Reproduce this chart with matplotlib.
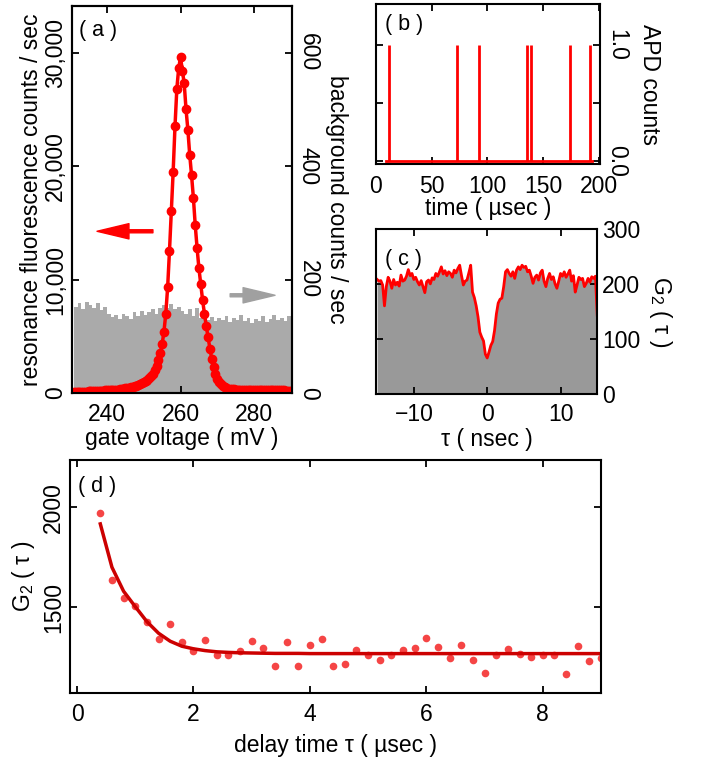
import numpy as np
import matplotlib.pyplot as plt

plt.rcParams['font.family'] = ['Liberation Sans', 'DejaVu Sans']
plt.rcParams['font.size'] = 16.5
plt.rcParams['mathtext.fontset'] = 'custom'
plt.rcParams['mathtext.rm'] = 'Liberation Sans'
plt.rcParams['mathtext.default'] = 'regular'
plt.rcParams['axes.linewidth'] = 1.5
plt.rcParams['xtick.direction'] = 'in'
plt.rcParams['ytick.direction'] = 'in'
plt.rcParams['xtick.top'] = True
plt.rcParams['ytick.right'] = True
plt.rcParams['xtick.major.size'] = 5
plt.rcParams['ytick.major.size'] = 5
plt.rcParams['xtick.major.width'] = 1.3
plt.rcParams['ytick.major.width'] = 1.3
plt.rcParams['xtick.major.pad'] = 7

# (a) resonance fluorescence vs gate voltage, 0.5 mV grid from 231 to 290 mV
rf_counts = [60, 70, 80, 90, 100, 110, 120, 130, 140, 150,
             160, 170, 180, 190, 200, 205, 210, 220, 230, 240,
             250, 260, 270, 285, 300, 320, 340, 370, 400, 430,
             460, 500, 540, 590, 640, 700, 780, 870, 970, 1060,
             1170, 1310, 1480, 1700, 2000, 2400, 2900, 3500, 4300, 5400,
             7000, 9300, 12500, 16000, 19500, 23500, 26800, 28600, 29600, 28400,
             27300, 25000, 23200, 21000, 19200, 17200, 14800, 12800, 11000, 9600,
             8200, 7000, 5900, 4900, 3900, 3000, 2300, 1700, 1250, 950,
             750, 600, 500, 430, 380, 350, 330, 315, 300, 295,
             290, 285, 280, 275, 270, 268, 265, 262, 260, 257,
             255, 252, 250, 248, 245, 242, 240, 237, 235, 232,
             230, 227, 225, 222, 220, 215, 210, 200, 190]
gate_mv = np.linspace(231, 290, len(rf_counts))

# background counts, 1 mV bins from 231 to 290 mV
bg_counts = [152, 158, 148, 160, 155, 150, 158, 146, 152, 140,
             134, 138, 130, 140, 136, 131, 142, 136, 145, 138,
             142, 148, 140, 150, 155, 150, 156, 148, 152, 144,
             140, 148, 136, 150, 132, 138, 128, 134, 126, 132,
             128, 136, 125, 132, 128, 138, 126, 133, 124, 131,
             127, 135, 125, 131, 137, 128, 133, 127, 136]
bg_edges = np.linspace(231, 290, len(bg_counts) + 1)

# (b) APD click times (usec)
apd_clicks = [12, 73, 93, 135.8, 139.4, 174.6, 192.5]
trace_span = [9, 194]

# (c) short-time G2, 0.25 ns grid from -15 to 15 ns
g2_short = [208, 205, 206, 198, 160, 195, 212, 205, 192, 208,
            198, 203, 196, 216, 205, 207, 214, 226, 215, 219,
            208, 212, 204, 198, 206, 195, 184, 204, 207, 200,
            211, 208, 219, 214, 222, 231, 218, 224, 215, 222,
            219, 212, 225, 220, 228, 234, 215, 198, 205, 207,
            220, 234, 185, 175, 160, 140, 112, 103, 96, 72,
            65, 76, 88, 95, 115, 145, 165, 172, 174, 195,
            222, 226, 219, 214, 222, 210, 225, 231, 226, 234,
            230, 232, 222, 225, 214, 201, 212, 216, 207, 220,
            225, 205, 195, 210, 219, 208, 213, 200, 192, 205,
            219, 214, 222, 212, 218, 225, 205, 215, 185, 198,
            212, 208, 210, 195, 201, 210, 203, 213, 210, 214,
            143]
tau_ns = np.linspace(-15, 15, len(g2_short))

# (d) long-time G2
delay_us = [0.4, 0.6, 0.8, 1.0, 1.2, 1.4, 1.6, 1.8, 2.0, 2.2, 2.4, 2.6, 2.8, 3.0, 3.2,
            3.4, 3.6, 3.8, 4.0, 4.2, 4.4, 4.6, 4.8, 5.0, 5.2, 5.4, 5.6, 5.8, 6.0, 6.2,
            6.4, 6.6, 6.8, 7.0, 7.2, 7.4, 7.6, 7.8, 8.0, 8.2, 8.4, 8.6, 8.8, 9.0]
g2_long = [1973, 1635, 1547, 1508, 1425, 1340, 1418, 1328, 1280, 1337, 1260, 1263, 1282, 1332, 1295,
           1208, 1325, 1207, 1312, 1340, 1207, 1215, 1285, 1260, 1237, 1262, 1285, 1298, 1348, 1300,
           1247, 1312, 1235, 1170, 1260, 1292, 1268, 1250, 1263, 1263, 1167, 1308, 1232, 1247]
g2_fit = [1917, 1700, 1580, 1503, 1428, 1370, 1330, 1305, 1292, 1283, 1277, 1274, 1272, 1271, 1270,
          1269, 1269, 1269, 1268, 1268, 1268, 1268, 1268, 1268, 1268, 1268, 1268, 1268, 1268, 1268,
          1268, 1268, 1268, 1268, 1268, 1268, 1268, 1268, 1268, 1268, 1268, 1268, 1268, 1268]

fig = plt.figure(figsize=(7.01, 7.60), dpi=100)

# ---- panel (a)
ax_a = fig.add_axes([0.1027, 0.4829, 0.3138, 0.5092])
ax_a2 = ax_a.twinx()
ax_a2.fill_between(bg_edges, bg_counts + bg_counts[-1:], step='post',
                   color='#aaaaaa', lw=0)
ax_a.plot(gate_mv, rf_counts, '-o', color='red', lw=2.5, ms=6)
ax_a.set_zorder(ax_a2.get_zorder() + 1)
ax_a.patch.set_visible(False)
ax_a.set_xlim(230.5, 290.3)
ax_a.set_ylim(0, 34100)
ax_a2.set_ylim(0, 682)
ax_a.set_xticks([240, 260, 280])
ax_a.set_yticks([0, 10000, 20000, 30000], ['0', '10,000', '20,000', '30,000'])
ax_a.tick_params(axis='y', labelrotation=90)
for t in ax_a.get_yticklabels():
    t.set_va('center')
ax_a2.set_yticks([0, 200, 400, 600])
ax_a2.tick_params(axis='y', labelrotation=270)
for t in ax_a2.get_yticklabels():
    t.set_va('center')
ax_a.set_xlabel('gate voltage ( mV )', labelpad=1)
ax_a.set_ylabel('resonance fluorescence counts / sec', labelpad=1)
ax_a2.set_ylabel('background counts / sec', rotation=270, labelpad=20)
ax_a.text(0.03, 0.965, '( a )', transform=ax_a.transAxes, ha='left', va='top', fontsize=15.5)
ax_a.annotate('', xy=(237.3, 14250), xytext=(252.5, 14250),
              arrowprops=dict(facecolor='red', edgecolor='red', width=2.2,
                              headwidth=11, headlength=23, shrink=0))
ax_a.annotate('', xy=(285.7, 8610), xytext=(273.5, 8610),
              arrowprops=dict(facecolor='#a0a0a0', edgecolor='#a0a0a0', width=2.2,
                              headwidth=11, headlength=23, shrink=0))

# ---- panel (b)
ax_b = fig.add_axes([0.5357, 0.7842, 0.3203, 0.2099])
ax_b.vlines(apd_clicks, 0, 1, color='red', lw=2)
ax_b.plot(trace_span, [0, 0], color='red', lw=2)
ax_b.set_xlim(-0.3, 201.3)
ax_b.set_ylim(-0.03, 1.35)
ax_b.set_xticks([0, 50, 100, 150, 200])
ax_b.set_yticks([0, 0.5, 1.0], ['0.0', '', '1.0'])
ax_b.tick_params(axis='x', pad=8)
ax_b.tick_params(axis='y', labelleft=False, labelright=True, labelrotation=270)
for t in ax_b.get_yticklabels():
    t.set_va('center')
ax_b.yaxis.set_label_position('right')
ax_b.set_ylabel('APD counts', rotation=270, labelpad=24)
ax_b.set_xlabel('time ( µsec )', labelpad=-1)
ax_b.text(0.04, 0.94, '( b )', transform=ax_b.transAxes, ha='left', va='top', fontsize=15.5)

# ---- panel (c)
ax_c = fig.add_axes([0.5359, 0.4820, 0.3161, 0.2167])
ax_c.fill_between(tau_ns, g2_short, color='#999999', lw=0)
ax_c.plot(tau_ns, g2_short, color='red', lw=2)
ax_c.set_xlim(-15.2, 15)
ax_c.set_ylim(0, 300)
ax_c.set_xticks([-10, 0, 10])
ax_c.set_yticks([0, 100, 200, 300])
ax_c.tick_params(axis='y', labelleft=False, labelright=True)
ax_c.yaxis.set_label_position('right')
ax_c.set_ylabel('G$_2$ ( τ )', rotation=270, labelpad=24)
ax_c.set_xlabel('τ ( nsec )', labelpad=1)
ax_c.text(0.04, 0.88, '( c )', transform=ax_c.transAxes, ha='left', va='top', fontsize=15.5)

# ---- panel (d)
ax_d = fig.add_axes([0.0999, 0.0882, 0.7575, 0.3066])
ax_d.plot(delay_us, g2_long, 'o', color='#f54545', ms=5.5, mec='none')
ax_d.plot(delay_us, g2_fit, color='#cc0000', lw=2.5)
ax_d.set_xlim(-0.12, 9.0)
ax_d.set_ylim(1071, 2237)
ax_d.set_xticks([0, 2, 4, 6, 8])
ax_d.set_yticks([1500, 2000])
ax_d.tick_params(axis='y', labelrotation=90)
for t in ax_d.get_yticklabels():
    t.set_va('center')
ax_d.set_xlabel('delay time τ ( µsec )', labelpad=6)
ax_d.set_ylabel('G$_2$ ( τ )', labelpad=4)
ax_d.text(0.015, 0.93, '( d )', transform=ax_d.transAxes, ha='left', va='top', fontsize=15.5)

fig.savefig('out.png', dpi=100)
